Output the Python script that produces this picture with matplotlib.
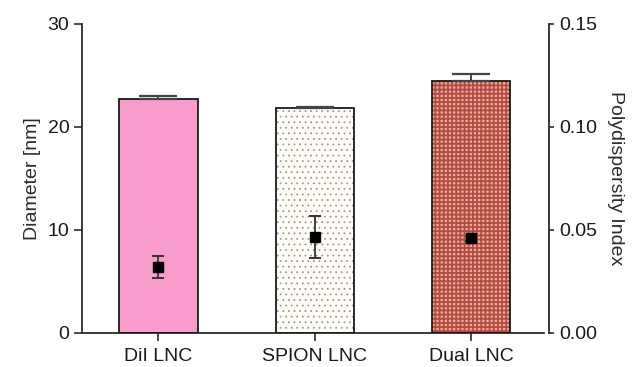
import matplotlib.pyplot as plt
from matplotlib.ticker import FormatStrFormatter

plt.rcParams['font.family'] = ['Liberation Sans', 'DejaVu Sans']
plt.rcParams['font.size'] = 14

groups = ['DiI LNC', 'SPION LNC', 'Dual LNC']
diameter = [22.75, 21.85, 24.5]
diameter_err = [0.25, 0.12, 0.6]
pdi = [0.032, 0.0465, 0.046]
pdi_err = [0.0055, 0.010, 0.0012]

axis_col = '#2b2b2b'
x = list(range(len(groups)))

fig = plt.figure(figsize=(6.4, 3.67), dpi=100)
ax = fig.add_axes([0.128, 0.093, 0.73, 0.842])

# 各组的填充样式：纯色 / 点阵 / 棋盘格
fills = [
    dict(facecolor='#f89ccb', hatch=None, hcol='#f89ccb', hlw=1.0),
    dict(facecolor='#fffdf7', hatch='...', hcol='#a09a90', hlw=0.6),
    dict(facecolor='#f4a7aa', hatch='++++', hcol='#b04e3c', hlw=1.3),
]
for i, f in enumerate(fills):
    with plt.rc_context({'hatch.linewidth': f['hlw']}):
        ax.bar(x[i], diameter[i], width=0.5, color=f['facecolor'],
               hatch=f['hatch'], edgecolor=f['hcol'], linewidth=0, zorder=2)
    ax.bar(x[i], diameter[i], width=0.5, fill=False, edgecolor='#1a1a1a',
           linewidth=1.3, zorder=3)

# 粒径误差棒只画上半部分
ax.errorbar(x, diameter, yerr=[[0] * 3, diameter_err], fmt='none',
            ecolor='#444444', elinewidth=1.4, capsize=13.5, capthick=1.6,
            zorder=4)

ax.set_xlim(-0.49, 2.5)
ax.set_ylim(0, 30)
ax.set_yticks([0, 10, 20, 30])
ax.set_xticks(x)
ax.set_xticklabels(groups)
ax.set_ylabel('Diameter [nm]', color=axis_col, labelpad=5)

ax2 = ax.twinx()
ax2.errorbar(x, pdi, yerr=pdi_err, fmt='s', color='black', markersize=6.5,
             ecolor='#333333', elinewidth=1.3, capsize=4, capthick=1.4,
             zorder=5)
ax2.set_ylim(0, 0.15)
ax2.set_yticks([0, 0.05, 0.10, 0.15])
ax2.yaxis.set_major_formatter(FormatStrFormatter('%.2f'))
ax2.set_ylabel('Polydispersity Index', rotation=270, labelpad=19,
               color=axis_col)

for a in (ax, ax2):
    a.spines['top'].set_visible(False)
    for s in a.spines.values():
        s.set_color(axis_col)
        s.set_linewidth(1.3)
    a.tick_params(colors=axis_col, labelcolor='#1a1a1a', width=1.2)
ax.spines['right'].set_visible(False)
ax2.spines['left'].set_visible(False)
ax2.spines['bottom'].set_visible(False)
ax.spines['bottom'].set_bounds(-0.49, 2.47)
ax.tick_params(axis='y', length=6, pad=3)
ax.tick_params(axis='x', length=6, pad=5)
ax2.tick_params(axis='y', length=3.5, pad=4)

fig.savefig('out.png', dpi=100)
